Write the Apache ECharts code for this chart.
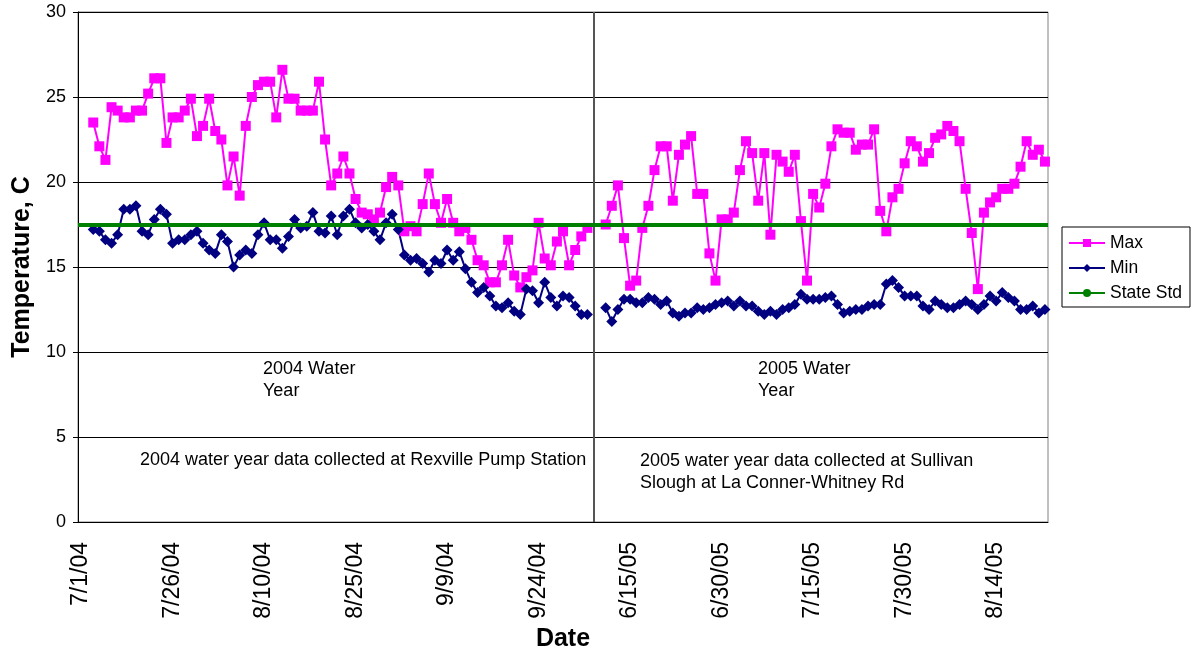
<!DOCTYPE html>
<html>
<head>
<meta charset="utf-8">
<script src="https://cdn.jsdelivr.net/npm/echarts@6/dist/echarts.min.js"></script>
<style>
  html, body { margin: 0; padding: 0; background: #fff; }
  #chart { width: 1197px; height: 653px; }
</style>
</head>
<body>
<div id="chart"></div>
<script>
// category labels: sparse early July 2004, then daily
const earlyJuly2004 = ['7/1/04', '7/3/04', '7/5/04', '7/7/04', '7/9/04', '7/10/04', '7/12/04', '7/14/04',
  '7/15/04', '7/17/04', '7/18/04', '7/20/04', '7/21/04', '7/23/04', '7/24/04'];
const dailyStart2004 = [2004, 7, 26]; const dailyCount2004 = 69;  // 7/26/04 .. 10/2/04
const dailyStart2005 = [2005, 6, 9];  const dailyCount2005 = 75;  // 6/9/05 .. 8/22/05

// daily Max / Min temperature (C), 2004 segment starts at 3rd category, 2005 segment after two empty days
const maxTemp2004 = [23.5, 22.1, 21.3, 24.4, 24.2, 23.8, 23.8, 24.2, 24.2, 25.2,
  26.1, 26.1, 22.3, 23.8, 23.8, 24.2, 24.9, 22.7, 23.3, 24.9,
  23.0, 22.5, 19.8, 21.5, 19.2, 23.3, 25.0, 25.7, 25.9, 25.9,
  23.8, 26.6, 24.9, 24.9, 24.2, 24.2, 24.2, 25.9, 22.5, 19.8,
  20.5, 21.5, 20.5, 19.0, 18.2, 18.1, 17.8, 18.2, 19.7, 20.3,
  19.8, 17.1, 17.4, 17.1, 18.7, 20.5, 18.7, 17.6, 19.0, 17.6,
  17.1, 17.3, 16.6, 15.4, 15.1, 14.1, 14.1, 15.1, 16.6, 14.5,
  13.8, 14.4, 14.8, 17.6, 15.5, 15.1, 16.5, 17.1, 15.1, 16.0,
  16.8, 17.3];
const minTemp2004 = [17.2, 17.1, 16.6, 16.4, 16.9, 18.4, 18.4, 18.6, 17.1, 16.9,
  17.8, 18.4, 18.1, 16.4, 16.6, 16.6, 16.9, 17.1, 16.4, 16.0,
  15.8, 16.9, 16.5, 15.0, 15.7, 16.0, 15.8, 16.9, 17.6, 16.6,
  16.6, 16.1, 16.8, 17.8, 17.3, 17.4, 18.2, 17.1, 17.0, 18.0,
  16.9, 18.0, 18.4, 17.6, 17.3, 17.5, 17.1, 16.6, 17.6, 18.1,
  17.2, 15.7, 15.4, 15.5, 15.2, 14.7, 15.4, 15.2, 16.0, 15.4,
  15.9, 14.9, 14.1, 13.5, 13.8, 13.3, 12.7, 12.6, 12.9, 12.4,
  12.2, 13.7, 13.6, 12.9, 14.1, 13.2, 12.7, 13.3, 13.2, 12.7,
  12.2, 12.2];
const maxTemp2005 = [17.5, 18.6, 19.8, 16.7, 13.9, 14.2, 17.3, 18.6, 20.7, 22.1,
  22.1, 18.9, 21.6, 22.2, 22.7, 19.3, 19.3, 15.8, 14.2, 17.8,
  17.8, 18.2, 20.7, 22.4, 21.7, 18.9, 21.7, 16.9, 21.6, 21.2,
  20.6, 21.6, 17.7, 14.2, 19.3, 18.5, 19.9, 22.1, 23.1, 22.9,
  22.9, 21.9, 22.2, 22.2, 23.1, 18.3, 17.1, 19.1, 19.6, 21.1,
  22.4, 22.1, 21.2, 21.7, 22.6, 22.8, 23.3, 23.0, 22.4, 19.6,
  17.0, 13.7, 18.2, 18.8, 19.1, 19.6, 19.6, 19.9, 20.9, 22.4,
  21.6, 21.9, 21.2];
const minTemp2005 = [12.6, 11.8, 12.5, 13.1, 13.1, 12.9, 12.9, 13.2, 13.1, 12.8,
  13.0, 12.3, 12.1, 12.3, 12.3, 12.6, 12.5, 12.6, 12.8, 12.9,
  13.0, 12.7, 13.0, 12.7, 12.7, 12.4, 12.2, 12.4, 12.2, 12.5,
  12.6, 12.8, 13.4, 13.1, 13.1, 13.1, 13.2, 13.3, 12.8, 12.3,
  12.4, 12.5, 12.5, 12.7, 12.8, 12.8, 14.0, 14.2, 13.8, 13.3,
  13.3, 13.3, 12.7, 12.5, 13.0, 12.8, 12.6, 12.6, 12.8, 13.0,
  12.8, 12.5, 12.8, 13.3, 13.0, 13.5, 13.2, 13.0, 12.5, 12.5,
  12.7, 12.3, 12.5];
const stateStd = 17.5;
const yTicks = [0, 30, 5];

const FONT = "'Liberation Sans', Arial, sans-serif";

function dayLabels(start, count) {
  const out = [];
  const d = new Date(start[0], start[1] - 1, start[2]);
  for (let k = 0; k < count; k++) {
    out.push((d.getMonth() + 1) + '/' + d.getDate() + '/' + String(d.getFullYear()).slice(2));
    d.setDate(d.getDate() + 1);
  }
  return out;
}

const categories = earlyJuly2004
  .concat(dayLabels(dailyStart2004, dailyCount2004))
  .concat(dayLabels(dailyStart2005, dailyCount2005));

// two empty days before each segment
const maxData = [null, null].concat(maxTemp2004, [null, null], maxTemp2005);
const minData = [null, null].concat(minTemp2004, [null, null], minTemp2005);
const splitIndex = earlyJuly2004.length + dailyCount2004; // first empty 2005 day

const chart = echarts.init(document.getElementById('chart'), null, { renderer: 'canvas' });

const option = {
  backgroundColor: '#fff',
  animation: false,
  textStyle: { fontFamily: FONT },
  grid: {
    left: 78, right: 149, top: 12, bottom: 131,
    outerBoundsMode: 'none',
    show: true, borderColor: '#808080', borderWidth: 1
  },
  legend: {
    orient: 'vertical',
    left: 1062,
    top: 227,
    padding: [7, 8, 5, 6],
    itemGap: 7,
    itemWidth: 36,
    itemHeight: 10,
    borderColor: '#000',
    borderWidth: 1,
    textStyle: { fontFamily: FONT, fontSize: 17.5, color: '#000', lineHeight: 18 },
    data: ['Max', 'Min', 'State Std']
  },
  xAxis: {
    type: 'category',
    data: categories,
    boundaryGap: true,
    name: 'Date',
    nameLocation: 'middle',
    nameGap: 102,
    nameTextStyle: { fontFamily: FONT, fontSize: 25, fontWeight: 'bold', color: '#000' },
    axisLine: { lineStyle: { color: '#000', width: 1 } },
    axisTick: { interval: 14, length: 6, lineStyle: { color: '#000' } },
    axisLabel: { interval: 14, rotate: 90, margin: 20, fontSize: 23, color: '#000', fontFamily: FONT },
    splitLine: { show: false }
  },
  yAxis: {
    type: 'value',
    min: yTicks[0],
    max: yTicks[1],
    interval: yTicks[2],
    name: 'Temperature, C',
    nameLocation: 'middle',
    nameGap: 43,
    nameTextStyle: { fontFamily: FONT, fontSize: 25, fontWeight: 'bold', color: '#000' },
    axisLine: { show: true, lineStyle: { color: '#000', width: 1 } },
    axisTick: { show: true, length: 5, lineStyle: { color: '#000' } },
    axisLabel: { fontSize: 18, color: '#000', margin: 12, fontFamily: FONT },
    splitLine: { lineStyle: { color: '#000', width: 1 } }
  },
  graphic: [
    { type: 'text', left: 263, top: 358, style: { text: '2004 Water\nYear', font: '18px ' + FONT, fill: '#000', lineHeight: 22 } },
    { type: 'text', left: 758, top: 358, style: { text: '2005 Water\nYear', font: '18px ' + FONT, fill: '#000', lineHeight: 22 } },
    { type: 'text', left: 140, top: 451, style: { text: '2004 water year data collected at Rexville Pump Station', font: '18px ' + FONT, fill: '#000' } },
    { type: 'text', left: 640, top: 450, style: { text: '2005 water year data collected at Sullivan\nSlough at La Conner-Whitney Rd', font: '18px ' + FONT, fill: '#000', lineHeight: 22 } }
  ],
  series: [
    {
      name: 'Max',
      type: 'line',
      data: maxData,
      connectNulls: false,
      showAllSymbol: true,
      symbol: 'rect',
      symbolSize: 10,
      color: '#FF00FF',
      lineStyle: { width: 2, color: '#FF00FF' },
      itemStyle: { color: '#FF00FF' },
      z: 3,
      markLine: {
        silent: true,
        symbol: 'none',
        label: { show: false },
        lineStyle: { color: '#555', width: 2, type: 'solid' },
        data: [{ xAxis: splitIndex }]
      }
    },
    {
      name: 'Min',
      type: 'line',
      data: minData,
      connectNulls: false,
      showAllSymbol: true,
      symbol: 'diamond',
      symbolSize: 11,
      color: '#000080',
      lineStyle: { width: 2, color: '#000080' },
      itemStyle: { color: '#000080' },
      z: 3
    },
    {
      name: 'State Std',
      type: 'line',
      data: [],
      symbol: 'none',
      color: '#008000',
      lineStyle: { width: 4, color: '#008000' },
      z: 5,
      markLine: {
        silent: true,
        symbol: 'none',
        label: { show: false },
        lineStyle: { color: '#008000', width: 4, type: 'solid' },
        z: 5,
        data: [{ yAxis: stateStd }]
      }
    }
  ]
};

chart.setOption(option);
</script>
</body>
</html>
